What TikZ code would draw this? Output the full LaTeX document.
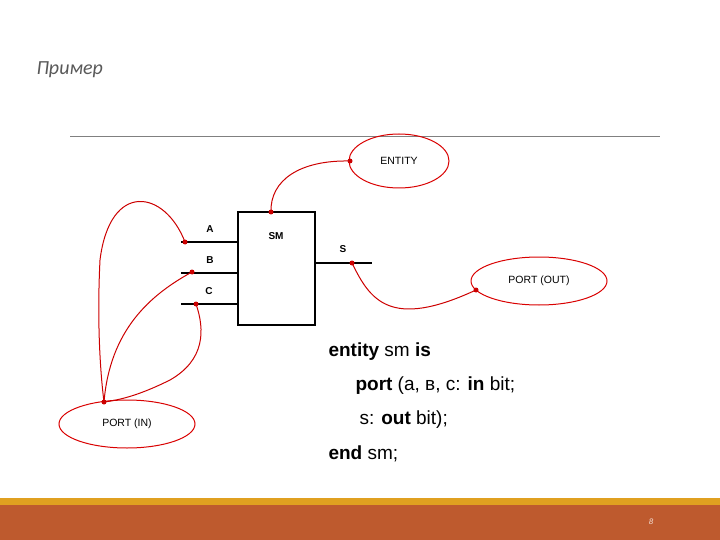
\documentclass[tikz,border=0pt]{standalone}
\usepackage{fontspec}
\usetikzlibrary{shapes.geometric}
\setmainfont{Liberation Sans}
\newfontfamily\carl{Carlito}
\definecolor{rust}{HTML}{BE5A2E}
\definecolor{gold}{HTML}{E0A020}
\begin{document}
\begin{tikzpicture}[x=1pt,y=-1pt,
  wire/.style={line width=1.8pt},
  conn/.style={draw=red!80!black,line width=1pt},
  dotm/.style={circle,fill=red!80!black,inner sep=0pt,minimum size=5pt},
  ell/.style={ellipse,draw=red!85!black,line width=1pt,font=\fontsize{10.5}{12}\selectfont},
  lbl/.style={font=\fontsize{10}{12}\selectfont\bfseries},
  code/.style={anchor=west,font=\fontsize{19}{22}\selectfont}]
\useasboundingbox (0,0) rectangle (720,540);
\node[anchor=west,text=gray!70!black,font=\carl\itshape\fontsize{20}{22}\selectfont] (title) at (33,70) {Пример};
\draw[gray,line width=0.6pt] (70,136) -- (660,136);
% box
\draw[line width=1.5pt] (238,212) rectangle (315,325);
\node[lbl] (sm) at (276,236) {SM};
\coordinate (ae) at (238,242); \coordinate (as) at (181,242);
\coordinate (be) at (238,273); \coordinate (bs) at (181,273);
\coordinate (ce) at (238,304); \coordinate (cs) at (181,304);
\coordinate (se) at (315,263); \coordinate (ss) at (372,263);
\draw[wire] (as) -- (ae); \draw[wire] (bs) -- (be); \draw[wire,line width=2.6pt] (cs) -- (ce);
\draw[wire] (se) -- (ss);
\node[lbl] (la) at (210,229) {A};
\node[lbl] (lb) at (210,260) {B};
\node[lbl] (lc) at (209,291) {C};
\node[lbl] (ls) at (343,249) {S};
% ellipses
\node[ell,minimum width=100pt,minimum height=54pt] (ent) at (399,161) {ENTITY};
\node[ell,minimum width=136pt,minimum height=48pt] (pout) at (539,281) {PORT (OUT)};
\node[ell,minimum width=136pt,minimum height=48pt] (pin) at (127,424) {PORT (IN)};
% dots
\node[dotm] (da) at (185,242) {};
\node[dotm] (db) at (192,272) {};
\node[dotm] (dc) at (196,304) {};
\node[dotm] (ds) at (352,263) {};
\node[dotm] (dt) at (271,212) {};
\node[dotm] (de) at (350,161) {};
\node[dotm] (dpo) at (476,290) {};
\node[dotm] (dpi) at (104,402) {};
% connectors
\draw[conn] (da.center) .. controls (165,190) and (110,180) .. (100,260) .. controls (97,320) and (100,370) .. (dpi.center);
\draw[conn] (db.center) .. controls (150,295) and (110,330) .. (dpi.center);
\draw[conn] (dc.center) .. controls (205,330) and (205,360) .. (170,380) .. controls (140,395) and (120,400) .. (dpi.center);
\draw[conn] (dt.center) .. controls (270,180) and (300,160) .. (de.center);
\draw[conn] (ds.center) .. controls (370,300) and (390,330) .. (dpo.center);
% code
\node[code] (c1) at (325,352) {\textbf{entity} sm \textbf{is}};
\node[code] (c2) at (352,386) {\textbf{port} (a, в, c: \textbf{in} bit;};
\node[code] (c3) at (356,420) {s: \textbf{out} bit);};
\node[code] (c4) at (325,454) {\textbf{end} sm;};
% footer
\fill[gold] (0,498) rectangle (720,506);
\fill[rust] (0,505) rectangle (720,540);
\node[text=white!80!rust,font=\itshape\fontsize{8}{9}\selectfont] (pg) at (651,522) {8};
\end{tikzpicture}
\end{document}
